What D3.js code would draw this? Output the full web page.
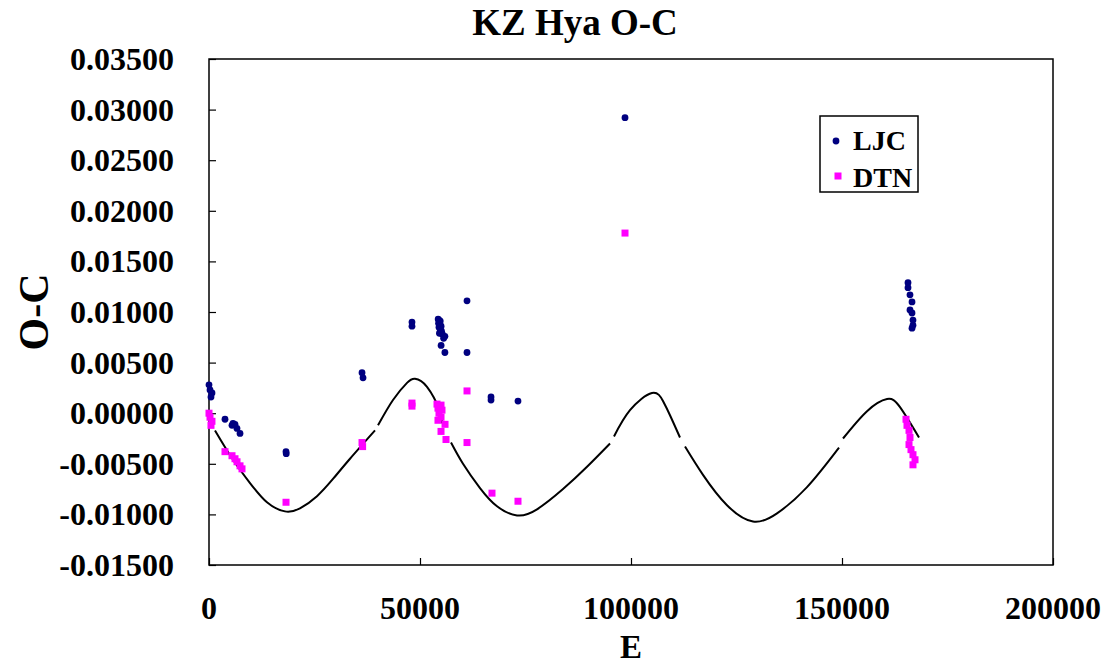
<!DOCTYPE html>
<html>
<head>
<meta charset="utf-8">
<script src="https://cdn.jsdelivr.net/npm/d3@7"></script>
<style>
  body { margin: 0; background: #fff; }
  svg text { font-family: "Liberation Serif", "Times New Roman", serif; font-weight: bold; fill: #000; }
</style>
</head>
<body>
<svg id="chart" width="1110" height="666"></svg>
<script>
// LJC observations [E, O-C]
var ljcData = [
  [0, 0.0028], [240, 0.0023], [710, 0.0020], [470, 0.0016],
  [3790, -0.0006], [5450, -0.0012], [5690, -0.0010], [6160, -0.0011], [6630, -0.0015], [7350, -0.0020],
  [18250, -0.0038], [18300, -0.0040],
  [36260, 0.0040], [36500, 0.0035],
  [48100, 0.0090], [48100, 0.0086],
  [54300, 0.0093], [54500, 0.0092], [54800, 0.0091], [54400, 0.0089], [54700, 0.0088],
  [55000, 0.0086], [54500, 0.0085], [54800, 0.0083], [55100, 0.0081], [54600, 0.0079],
  [55300, 0.0078], [55900, 0.0076], [55600, 0.0074], [55000, 0.0067], [55900, 0.0060],
  [61140, 0.0111], [61140, 0.0060],
  [66830, 0.0016], [66830, 0.0013],
  [73220, 0.0012],
  [98580, 0.0292],
  [165640, 0.0129], [165640, 0.0124], [166110, 0.0117], [166590, 0.0110], [166110, 0.0102],
  [166590, 0.0099], [166820, 0.0092], [166820, 0.0087], [166590, 0.0084]
];

// DTN observations [E, O-C]
var dtnData = [
  [0, 0.0000], [240, -0.0004], [700, -0.0008], [470, -0.0012],
  [3790, -0.0038], [5450, -0.0042], [6160, -0.0045], [6640, -0.0048], [7350, -0.0052], [7820, -0.0055],
  [18250, -0.0088],
  [36260, -0.0029], [36400, -0.0033],
  [48100, 0.0010], [48100, 0.0007],
  [54030, 0.0009], [54980, 0.0008], [54260, 0.0005], [55210, 0.0003], [54500, 0.0000],
  [54980, -0.0004], [54260, -0.0007], [55930, -0.0011], [54980, -0.0018], [56160, -0.0026],
  [61140, 0.0022], [61140, -0.0029],
  [67060, -0.0079],
  [73220, -0.0087],
  [98580, 0.0178],
  [165170, -0.0006], [165400, -0.0012], [165880, -0.0017], [166110, -0.0024], [165880, -0.0031],
  [166350, -0.0036], [166820, -0.0041], [167300, -0.0046], [166820, -0.0051]
];

// fitted curve [E, O-C], null = gap in the line
var fitData = [
  [1420, -0.0017], [5690, -0.0046], [9720, -0.0069], [13740, -0.0088], [18010, -0.0097],
  [21560, -0.0094], [25590, -0.0082], [29380, -0.0065], [33410, -0.0045], [39340, -0.0017],
  null,
  [40050, -0.0012], [43600, 0.0013], [46920, 0.0030], [48820, 0.0034], [51660, 0.0026],
  [54740, 0.0002], [55210, -0.0010],
  null,
  [57350, -0.0029], [60190, -0.0050], [64220, -0.0074], [68250, -0.0092], [72990, -0.0101],
  [77730, -0.0095], [83890, -0.0075], [89580, -0.0053], [95030, -0.0030],
  null,
  [95970, -0.0023], [99760, 0.0003], [104980, 0.0020], [107580, 0.0012], [109240, -0.0002], [111610, -0.0024],
  null,
  [112800, -0.0033], [117060, -0.0061], [122750, -0.0091], [128910, -0.0107], [134600, -0.0099],
  [141710, -0.0073], [149290, -0.0034],
  null,
  [150240, -0.0025], [155930, 0.0002], [160670, 0.0014], [163750, 0.0006], [168250, -0.0024]
];

var xTicks = [0, 50000, 100000, 150000, 200000];
var yTicks = [-0.015, -0.01, -0.005, 0, 0.005, 0.01, 0.015, 0.02, 0.025, 0.03, 0.035];
var legendNames = ["LJC", "DTN"];

var svg = d3.select("#chart");
var plot = { left: 209, right: 1053, top: 59, bottom: 565 };

var x = d3.scaleLinear().domain([0, 200000]).range([plot.left, plot.right]);
var y = d3.scaleLinear().domain([-0.015, 0.035]).range([plot.bottom, plot.top]);

// frame
svg.append("rect")
  .attr("x", plot.left).attr("y", plot.top)
  .attr("width", plot.right - plot.left).attr("height", plot.bottom - plot.top)
  .attr("fill", "none").attr("stroke", "#000").attr("stroke-width", 1.5);

// axes, ticks pointing inward
var yAxis = svg.append("g")
  .attr("transform", "translate(" + plot.left + ",0)")
  .call(d3.axisRight(y).tickValues(yTicks).tickSize(7).tickFormat(""));
var xAxis = svg.append("g")
  .attr("transform", "translate(0," + plot.bottom + ")")
  .call(d3.axisTop(x).tickValues(xTicks).tickSize(7).tickFormat(""));
[xAxis, yAxis].forEach(function(g){
  g.select(".domain").remove();
  g.selectAll("line").attr("stroke", "#000").attr("stroke-width", 1.2);
});

// tick labels
svg.selectAll(".ylab").data(yTicks).enter().append("text")
  .attr("class", "ylab")
  .attr("x", 174).attr("y", function(d){ return y(d) + 11; })
  .attr("text-anchor", "end")
  .style("font-size", "32px")
  .text(function(d){ return d3.format(".5f")(d).replace("−", "-"); });

svg.selectAll(".xlab").data(xTicks).enter().append("text")
  .attr("class", "xlab")
  .attr("x", function(d){ return x(d); }).attr("y", 619)
  .attr("text-anchor", "middle")
  .style("font-size", "32px")
  .text(function(d){ return d; });

// titles
svg.append("text").attr("x", 575).attr("y", 35).attr("text-anchor", "middle")
  .style("font-size", "37px").text("KZ Hya O-C");
svg.append("text").attr("x", 631).attr("y", 658).attr("text-anchor", "middle")
  .style("font-size", "33px").text("E");
svg.append("text").attr("transform", "translate(48,312) rotate(-90)").attr("text-anchor", "middle")
  .style("font-size", "42px").text("O-C");

// fitted curve
var line = d3.line()
  .defined(function(d){ return d !== null; })
  .x(function(d){ return x(d[0]); })
  .y(function(d){ return y(d[1]); })
  .curve(d3.curveNatural);
svg.append("path").datum(fitData)
  .attr("d", line)
  .attr("fill", "none").attr("stroke", "#000").attr("stroke-width", 2);

// data points
svg.selectAll(".ljc").data(ljcData).enter().append("circle")
  .attr("class", "ljc")
  .attr("cx", function(d){ return x(d[0]); })
  .attr("cy", function(d){ return y(d[1]); })
  .attr("r", 3.4).attr("fill", "#000080");

svg.selectAll(".dtn").data(dtnData).enter().append("rect")
  .attr("class", "dtn")
  .attr("x", function(d){ return x(d[0]) - 3.5; })
  .attr("y", function(d){ return y(d[1]) - 3.5; })
  .attr("width", 7).attr("height", 7).attr("fill", "#ff00ff");

// legend
var lg = svg.append("g").attr("transform", "translate(820,116)");
lg.append("rect").attr("width", 98).attr("height", 76)
  .attr("fill", "#fff").attr("stroke", "#000").attr("stroke-width", 1.5);
lg.append("circle").attr("cx", 16).attr("cy", 25).attr("r", 3.4).attr("fill", "#000080");
lg.append("rect").attr("x", 14.5).attr("y", 56.5).attr("width", 7).attr("height", 7).attr("fill", "#ff00ff");
lg.selectAll(".lgt").data(legendNames).enter().append("text")
  .attr("class", "lgt")
  .attr("x", 33).attr("y", function(d, i){ return 34 + i * 37; })
  .style("font-size", "28px")
  .text(function(d){ return d; });
</script>
</body>
</html>
